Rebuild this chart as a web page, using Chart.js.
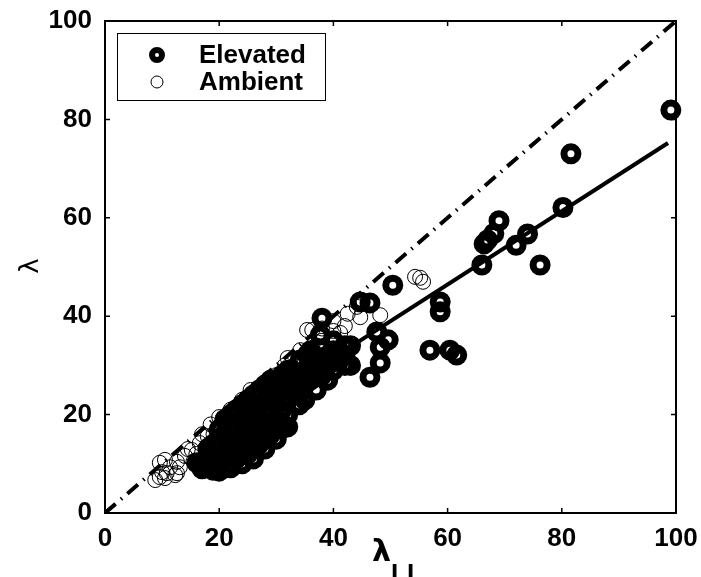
<!DOCTYPE html>
<html>
<head>
<meta charset="utf-8">
<script src="https://cdn.jsdelivr.net/npm/chart.js@4"></script>
<style>
  body { margin: 0; background: #fff; }
  #wrap { width: 701px; height: 577px; }
</style>
</head>
<body>
<div id="wrap"><canvas id="lambdaChart"></canvas></div>
<script>
// Data: [lambda_LI, lambda]
const elevatedPoints = [
  [16.1, 10.2], [17, 10], [17, 9], [18, 11], [18, 13], [18.9, 8.7], [19, 10], [19, 12], [19, 14],
  [20, 9.5], [20, 8.5], [20, 12], [20, 15], [20, 17], [21, 11], [21, 13], [21, 16], [21, 19],
  [22, 10], [22, 9.2], [22, 12], [22, 14], [22, 17], [22, 20], [23, 11], [23, 13], [23, 15],
  [23, 18], [23, 21], [24, 10], [24, 12], [24, 14], [24, 16], [24, 19], [24, 22], [25, 12],
  [25, 15], [25, 17], [25, 20], [25, 23], [26, 11], [26, 13], [26, 16], [26, 18], [26, 21],
  [26, 24], [27, 14], [27, 17], [27, 19], [27, 22], [27, 25], [28, 13], [28, 15], [28, 18],
  [28, 20], [28, 23], [28, 26], [29, 16], [29, 18], [29, 21], [29, 24], [29, 27],
  [30, 15], [30, 17], [30, 19], [30, 22], [30, 25], [30, 27], [31.2, 17.3], [31, 18], [31, 21],
  [31, 25], [32, 17.5], [32, 20], [32, 23], [31, 28], [32, 29], [33, 24.4], [33, 26], [33, 28],
  [34.2, 31.1], [35.4, 32.1], [34, 22], [34, 24], [34, 27], [35, 23], [35, 26], [35, 28], [35, 29],
  [36, 27], [36, 29], [36, 31], [36, 33], [37, 25], [37, 29], [37, 30], [37.7, 36.2], [38, 39.6],
  [38, 28], [38, 31], [39, 30], [39, 27], [39, 32], [40, 29], [40, 31], [40, 33], [40, 35],
  [41, 31], [41, 33], [42, 32], [42, 34], [42, 30], [43, 34], [43, 30], [44.7, 42.9], [46.4, 42.7],
  [47.6, 36.8], [46.4, 27.6], [48.2, 30.5], [48.2, 33.7], [49.6, 35.2], [50.4, 46.3], [56.9, 33.1], [60.4, 33.1],
  [61.6, 32.1], [58.7, 40.9], [58.7, 42.9], [66, 50.4], [66.4, 54.7], [67, 55.5], [68.1, 56.8], [69, 59.4],
  [72, 54.4], [74, 56.7], [76.2, 50.4], [80.2, 62.1], [81.6, 73], [99.1, 81.9]
];

const ambientPoints = [
  [8.8, 6.7], [9.6, 7.3], [10, 8.3], [10.5, 7.1], [10.8, 8.1], [9.6, 10.2], [10.5, 10.8], [11.4, 9.3],
  [12.3, 7.7], [12.6, 8.1], [12.6, 10.4], [13.1, 9.3], [14, 11.6], [14.5, 13], [15.2, 12.8], [15.5, 10.5],
  [16.6, 14.2], [17, 16], [18, 15.6], [18.5, 18], [19.8, 17.3], [20, 19.5], [21.5, 19.3], [22, 21],
  [23.3, 21], [24, 23], [25, 23], [25.5, 25], [27.1, 25], [28, 26.5], [28.9, 27.4], [30, 28],
  [31.5, 30], [32, 31.5], [34.2, 33.1], [35.4, 37.2], [36.3, 37.2], [37, 34], [39.4, 33.1], [41.2, 36.6],
  [42, 38], [44.1, 41.9], [44.7, 39.8], [48.2, 40.2], [54.3, 48], [55.2, 47.8], [55.7, 47],
  [18, 12], [20, 14], [22, 16], [24, 18], [26, 20], [28, 22], [30, 24], [21, 13],
  [23, 17], [25, 19], [27, 21], [29, 23], [16, 12], [19, 16], [33, 29], [35, 31],
  [38, 35], [40, 37], [38, 37.5], [40, 39], [42.5, 40.5]
];

// 1:1 reference line and fitted line end points
const diagX = [0, 100];
const diagY = [0, 100];
const fitX = [17, 98.6];
const fitY = [14.4, 75.2];

const tickValues = [0, 20, 40, 60, 80, 100];
const legendLabels = ['Elevated', 'Ambient'];

const toXY = (pts) => pts.map(p => ({ x: p[0], y: p[1] }));
const zipXY = (xs, ys) => xs.map((x, i) => ({ x: x, y: ys[i] }));

// frame, inward ticks, legend box, axis titles
const decorations = {
  id: 'decorations',
  afterDraw(chart) {
    const ctx = chart.ctx;
    const a = chart.chartArea;
    const xs = chart.scales.x, ys = chart.scales.y;
    ctx.save();
    ctx.strokeStyle = '#000';
    ctx.lineWidth = 2;
    ctx.strokeRect(a.left, a.top, a.right - a.left, a.bottom - a.top);

    ctx.lineWidth = 1.5;
    ctx.beginPath();
    tickValues.forEach(v => {
      const px = xs.getPixelForValue(v);
      ctx.moveTo(px, a.bottom); ctx.lineTo(px, a.bottom - 5);
      ctx.moveTo(px, a.top); ctx.lineTo(px, a.top + 5);
      const py = ys.getPixelForValue(v);
      ctx.moveTo(a.left, py); ctx.lineTo(a.left + 5, py);
      ctx.moveTo(a.right, py); ctx.lineTo(a.right - 5, py);
    });
    ctx.stroke();

    // legend
    ctx.fillStyle = '#fff';
    ctx.fillRect(117, 33, 208, 67);
    ctx.lineWidth = 1;
    ctx.strokeRect(117.5, 33.5, 208, 67);
    ctx.lineWidth = 6;
    ctx.beginPath(); ctx.arc(157, 55, 5, 0, Math.PI * 2); ctx.stroke();
    ctx.lineWidth = 1;
    ctx.beginPath(); ctx.arc(157, 82, 6, 0, Math.PI * 2); ctx.stroke();
    ctx.fillStyle = '#000';
    ctx.font = 'bold 26px "Liberation Sans", Arial, sans-serif';
    ctx.textAlign = 'left';
    ctx.textBaseline = 'middle';
    ctx.fillText(legendLabels[0], 199, 56);
    ctx.fillText(legendLabels[1], 199, 83);

    // axis titles
    ctx.font = 'bold 30px "DejaVu Sans", sans-serif';
    ctx.textAlign = 'left';
    ctx.textBaseline = 'alphabetic';
    ctx.fillText('λ', 372, 561);
    ctx.font = 'bold 26px "Liberation Sans", Arial, sans-serif';
    ctx.fillText('LI', 391, 582);

    ctx.translate(31, 266);
    ctx.rotate(-Math.PI / 2);
    ctx.font = '26px "DejaVu Sans", sans-serif';
    ctx.textAlign = 'center';
    ctx.textBaseline = 'middle';
    ctx.fillText('λ', 0, 0);
    ctx.restore();
  }
};

const tickFont = { family: '"Liberation Sans", Arial, sans-serif', size: 26, weight: 'bold' };

const ctx = document.getElementById('lambdaChart').getContext('2d');
const lambdaChart = new Chart(ctx, {
  type: 'scatter',
  data: {
    datasets: [
      {
        label: '1:1',
        type: 'line',
        data: zipXY(diagX, diagY),
        borderColor: '#000',
        borderWidth: 4,
        borderDash: [14, 7, 1.5, 7],
        pointRadius: 0,
        fill: false,
        order: 0
      },
      {
        label: 'fit',
        type: 'line',
        data: zipXY(fitX, fitY),
        borderColor: '#000',
        borderWidth: 4,
        pointRadius: 0,
        fill: false,
        order: 0
      },
      {
        label: legendLabels[0],
        data: toXY(elevatedPoints),
        pointRadius: 7,
        borderWidth: 7,
        borderColor: '#000',
        backgroundColor: 'rgba(0,0,0,0)',
        clip: false,
        order: 1
      },
      {
        label: legendLabels[1],
        data: toXY(ambientPoints),
        pointRadius: 7.5,
        borderWidth: 1,
        borderColor: '#000',
        backgroundColor: 'rgba(0,0,0,0)',
        clip: false,
        order: 2
      }
    ]
  },
  options: {
    responsive: true,
    maintainAspectRatio: false,
    animation: false,
    layout: { padding: { top: 21, right: 25, left: 0, bottom: 0 } },
    plugins: {
      legend: { display: false },
      tooltip: { enabled: false }
    },
    scales: {
      x: {
        type: 'linear',
        min: 0,
        max: 100,
        afterBuildTicks: (s) => { s.ticks = tickValues.map(v => ({ value: v })); },
        afterFit: (s) => { s.height = 64; s.paddingLeft = 0; s.paddingRight = 0; },
        grid: { display: false, drawTicks: false },
        border: { display: false },
        ticks: { color: '#000', font: tickFont, padding: 10, maxRotation: 0 }
      },
      y: {
        type: 'linear',
        min: 0,
        max: 100,
        afterBuildTicks: (s) => { s.ticks = tickValues.map(v => ({ value: v })); },
        afterFit: (s) => { s.width = 105; s.paddingTop = 0; s.paddingBottom = 0; },
        grid: { display: false, drawTicks: false },
        border: { display: false },
        ticks: { color: '#000', font: tickFont, padding: 13 }
      }
    }
  },
  plugins: [decorations]
});
</script>
</body>
</html>
